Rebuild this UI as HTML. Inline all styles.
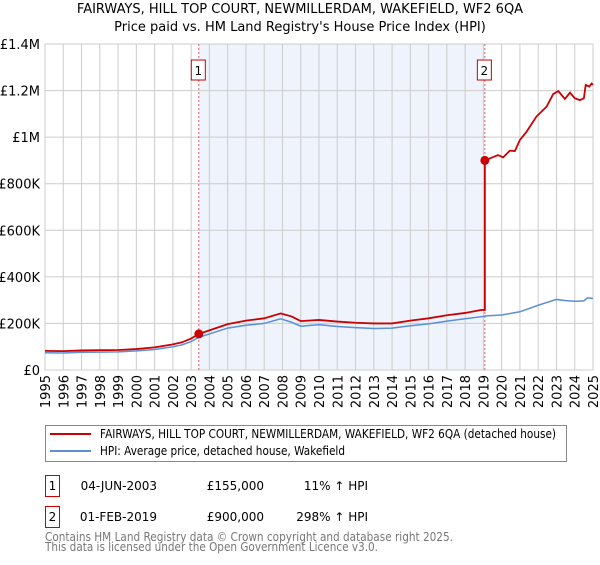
<!DOCTYPE html>
<html><head><meta charset="utf-8"><style>
body{margin:0;background:#fff;font-family:"Liberation Sans","DejaVu Sans",sans-serif;}
svg text{font-family:"DejaVu Sans","Liberation Sans",sans-serif;}
</style></head><body>
<svg id="c" width="600" height="560" xmlns="http://www.w3.org/2000/svg"></svg>
<script>
const years=[1995,1996,1997,1998,1999,2000,2001,2002,2002.5,2003,2003.42,2004,2005,2006,2007,2007.9,2008.5,2009,2010,2011,2012,2013,2014,2015,2016,2017,2018,2019,2019.08,2020,2021,2022,2023,2023.5,2024,2024.5,2024.7,2025];
const hpiValues=[74,73,76,77,78,82,88,100,108,122,140,155,180,192,200,220,205,188,195,187,182,178,180,190,198,210,220,230,232,236,250,278,303,298,295,297,310,307];
const redYears=[1995,1996,1997,1998,1999,2000,2001,2002,2002.5,2003,2003.42,2004,2005,2006,2007,2007.9,2008.5,2009,2010,2011,2012,2013,2014,2015,2016,2017,2018,2018.9,2019.08,2019.8,2020.08,2020.45,2020.72,2021.0,2021.36,2021.9,2022.46,2022.82,2023.1,2023.46,2023.74,2024.0,2024.28,2024.5,2024.6,2024.8,2024.92,2025];
const redValues=[82,81,84,85,86,90,97,110,119,135,155,170,197,212,222,243,230,210,215,208,203,200,200,212,222,235,245,258,900,923,913,942,940,988,1023,1088,1131,1185,1198,1164,1191,1167,1159,1167,1224,1217,1230,1225];
const yTicks=[0,200,400,600,800,1000,1200,1400];
const yTickLabels=["£0","£200K","£400K","£600K","£800K","£1M","£1.2M","£1.4M"];
const sales=[{n:"1",year:2003.42,value:155},{n:"2",year:2019.08,value:900}];
const X0=45,X1=593,Y0=370,Y1=44;
const xs=y=>X0+(y-1995)/30*(X1-X0);
const ys=v=>Y0-v/1400*(Y0-Y1);
const svg=document.getElementById('c');const NS="http://www.w3.org/2000/svg";
function mk(t,a,p){const e=document.createElementNS(NS,t);for(const k in a)e.setAttribute(k,a[k]);(p||svg).appendChild(e);return e;}
let t=mk('text',{x:300,y:13,'text-anchor':'middle','font-size':13,fill:'#000'});t.textContent="FAIRWAYS, HILL TOP COURT, NEWMILLERDAM, WAKEFIELD, WF2 6QA";


t=mk('text',{x:300,y:31,'text-anchor':'middle','font-size':13,fill:'#000'});t.textContent="Price paid vs. HM Land Registry's House Price Index (HPI)";


let r=mk('rect',{x:xs(sales[0].year),y:Y1,width:xs(sales[1].year)-xs(sales[0].year),height:Y0-Y1,fill:'#eef3fc'});


for(let i=0;i<yTicks.length;i++){const y=ys(yTicks[i]);
 const l=mk('line',{x1:X0,x2:X1,y1:y,y2:y,stroke:'#ccc'});
 
 
 const tx=mk('text',{x:40,y:y+5,'text-anchor':'end','font-size':13,fill:'#000'});tx.textContent=yTickLabels[i];
 
 }
for(let yr=1995;yr<=2025;yr++){const x=xs(yr);
 const l=mk('line',{x1:x,x2:x,y1:Y1,y2:Y0,stroke:'#ccc'});
 
 
 const tx=mk('text',{x:0,y:0,'text-anchor':'end','font-size':13,fill:'#000',transform:`translate(${x+5},375) rotate(-90)`});tx.textContent=yr;
 
 }
r=mk('rect',{x:X0,y:Y1,width:X1-X0,height:Y0-Y1,fill:'none',stroke:'#ccc'});


sales.forEach(s=>{const x=xs(s.year);
 const l=mk('line',{x1:x,x2:x,y1:Y1,y2:Y0,stroke:'#e06060','stroke-dasharray':'2,2'});
 
 
 const b=mk('rect',{x:x-7.5,y:60,width:14,height:20,fill:'#fff',stroke:'#cc0000'});
 
 
 const tx=mk('text',{x:x-0.5,y:75,'text-anchor':'middle','font-size':12,fill:'#000'});tx.textContent=s.n;
 
 });
let p=mk('polyline',{points:years.map((y,i)=>xs(y)+','+ys(hpiValues[i])).join(' '),fill:'none',stroke:'#5b8fd6','stroke-width':1.5});


const rp=[];redYears.forEach((y,i)=>{if(i>0&&redValues[i]-redValues[i-1]>300)rp.push(xs(y)+','+ys(redValues[i-1]));rp.push(xs(y)+','+ys(redValues[i]));});
p=mk('polyline',{points:rp.join(' '),fill:'none',stroke:'#cc0000','stroke-width':1.8});


sales.forEach(s=>{const c=mk('circle',{cx:xs(s.year),cy:ys(s.value),r:4.5,fill:'#cc0000'});
 
 });
r=mk('rect',{x:45.5,y:425.5,width:521,height:36,fill:'#fff',stroke:'#888'});


let l=mk('line',{x1:50,x2:91,y1:434,y2:434,stroke:'#cc0000','stroke-width':2});


l=mk('line',{x1:50,x2:91,y1:451,y2:451,stroke:'#5b8fd6','stroke-width':2});


t=mk('text',{x:100,y:438,'font-size':12,fill:'#000',textLength:456,lengthAdjust:'spacingAndGlyphs'});t.textContent="FAIRWAYS, HILL TOP COURT, NEWMILLERDAM, WAKEFIELD, WF2 6QA (detached house)";


t=mk('text',{x:100,y:455,'font-size':12,fill:'#000',textLength:245,lengthAdjust:'spacingAndGlyphs'});t.textContent="HPI: Average price, detached house, Wakefield";


const rows=[["1","04-JUN-2003","£155,000","11% ↑ HPI"],["2","01-FEB-2019","£900,000","298% ↑ HPI"]];
rows.forEach((rw,i)=>{const y=485+i*31;
 const b=mk('rect',{x:45.5,y:y-9.5,width:14,height:21,fill:'#fff',stroke:'#cc0000'});
 
 
 let tx=mk('text',{x:52.5,y:y+5,'text-anchor':'middle','font-size':12});tx.textContent=rw[0];
 
 
 tx=mk('text',{x:157,y:y+5,'text-anchor':'end','font-size':12});tx.textContent=rw[1];
 
 
 tx=mk('text',{x:264,y:y+5,'text-anchor':'end','font-size':12});tx.textContent=rw[2];
 
 
 tx=mk('text',{x:368,y:y+5,'text-anchor':'end','font-size':12});tx.textContent=rw[3];
 
 });
t=mk('text',{x:45,y:541,'font-size':12,fill:'#777',textLength:408,lengthAdjust:'spacingAndGlyphs'});t.textContent="Contains HM Land Registry data © Crown copyright and database right 2025.";


t=mk('text',{x:45,y:551,'font-size':12,fill:'#777',textLength:333,lengthAdjust:'spacingAndGlyphs'});t.textContent="This data is licensed under the Open Government Licence v3.0.";


</script>
</body></html>
